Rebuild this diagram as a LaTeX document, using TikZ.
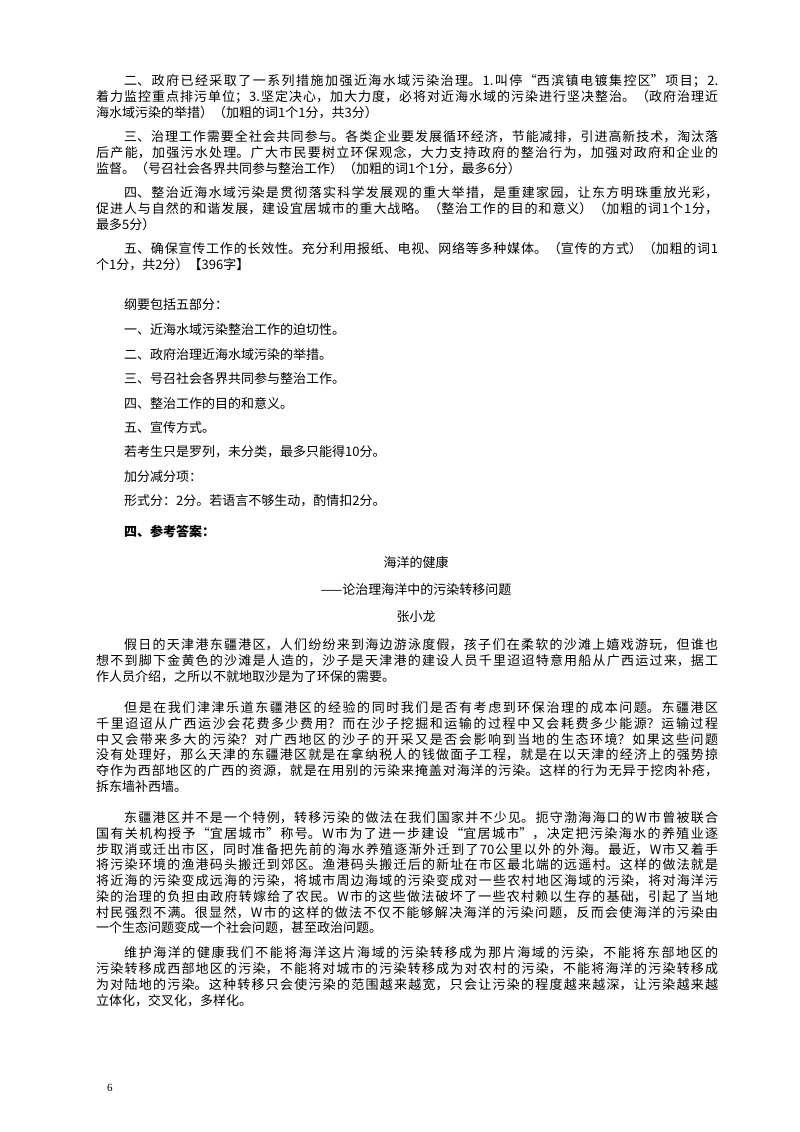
\documentclass[tikz,border=0pt]{standalone}
\usepackage{fontspec}
\setmainfont{Noto Sans CJK SC}
\newfontfamily\latfont{Liberation Serif}
\XeTeXlinebreaklocale "zh"
\XeTeXlinebreakskip=0pt plus 3pt minus 0.3pt
\tolerance=9999 \emergencystretch=30pt
\tikzset{para/.style={anchor=north west,inner sep=0pt,text width=622pt,align=justify,font=\fontsize{13}{15.75}\selectfont},
 one/.style={anchor=west,inner sep=0pt,font=\fontsize{13}{15.75}\selectfont},
 ctr/.style={anchor=center,inner sep=0pt,font=\fontsize{13}{15.75}\selectfont}}
\newcommand\ind{\hspace*{28pt}}
\begin{document}
\begin{tikzpicture}[x=1pt,y=-1pt]
\useasboundingbox[fill=white] (0,0) rectangle (800,1132);
\node[para] (p1) at (96,74.5) {\ind 二、政府已经采取了一系列措施加强近海水域污染治理。1.叫停“西滨镇电镀集控区”项目；2.\linebreak 着力监控重点排污单位；3.坚定决心，加大力度，必将对近海水域的污染进行坚决整治。（政府治理近\linebreak 海水域污染的举措）（加粗的词1个1分，共3分）};
\node[para] (p2) at (96,130.5) {\ind 三、治理工作需要全社会共同参与。各类企业要发展循环经济，节能减排，引进高新技术，淘汰落\linebreak 后产能，加强污水处理。广大市民要树立环保观念，大力支持政府的整治行为，加强对政府和企业的\linebreak 监督。（号召社会各界共同参与整治工作）（加粗的词1个1分，最多6分）};
\node[para] (p3) at (96,186.5) {\ind 四、整治近海水域污染是贯彻落实科学发展观的重大举措，是重建家园，让东方明珠重放光彩，\linebreak 促进人与自然的和谐发展，建设宜居城市的重大战略。（整治工作的目的和意义）（加粗的词1个1分，\linebreak 最多5分）};
\node[para] (p4) at (96,242.5) {\ind 五、确保宣传工作的长效性。充分利用报纸、电视、网络等多种媒体。（宣传的方式）（加粗的词1\linebreak 个1分，共2分）【396字】};
\node[one] (l1) at (124,305) {纲要包括五部分：};
\node[one] (l2) at (124,330) {一、近海水域污染整治工作的迫切性。};
\node[one] (l3) at (124,355) {二、政府治理近海水域污染的举措。};
\node[one] (l4) at (124,379) {三、号召社会各界共同参与整治工作。};
\node[one] (l5) at (124,404) {四、整治工作的目的和意义。};
\node[one] (l6) at (124,428) {五、宣传方式。};
\node[one] (l7) at (124,452) {若考生只是罗列，未分类，最多只能得10分。};
\node[one] (l8) at (124,477) {加分减分项：};
\node[one] (l9) at (124,501) {形式分：2分。若语言不够生动，酌情扣2分。};
\node[one,font=\fontsize{13}{15.75}\selectfont\bfseries] (h) at (124,531) {四、参考答案：};
\node[ctr] (t1) at (416,562) {海洋的健康};
\node[ctr] (t2) at (416,590) {——论治理海洋中的污染转移问题};
\node[ctr] (t3) at (416,617) {张小龙};
\node[para] (q1) at (96,638.5) {\ind 假日的天津港东疆港区，人们纷纷来到海边游泳度假，孩子们在柔软的沙滩上嬉戏游玩，但谁也\linebreak 想不到脚下金黄色的沙滩是人造的，沙子是天津港的建设人员千里迢迢特意用船从广西运过来，据工\linebreak 作人员介绍，之所以不就地取沙是为了环保的需要。};
\node[para] (q2) at (96,701.5) {\ind 但是在我们津津乐道东疆港区的经验的同时我们是否有考虑到环保治理的成本问题。东疆港区\linebreak 千里迢迢从广西运沙会花费多少费用？而在沙子挖掘和运输的过程中又会耗费多少能源？运输过程\linebreak 中又会带来多大的污染？对广西地区的沙子的开采又是否会影响到当地的生态环境？如果这些问题\linebreak 没有处理好，那么天津的东疆港区就是在拿纳税人的钱做面子工程，就是在以天津的经济上的强势掠\linebreak 夺作为西部地区的广西的资源，就是在用别的污染来掩盖对海洋的污染。这样的行为无异于挖肉补疮，\linebreak 拆东墙补西墙。};
\node[para] (q3) at (96,811.5) {\ind 东疆港区并不是一个特例，转移污染的做法在我们国家并不少见。扼守渤海海口的W市曾被联合\linebreak 国有关机构授予“宜居城市”称号。W市为了进一步建设“宜居城市”，决定把污染海水的养殖业逐\linebreak 步取消或迁出市区，同时准备把先前的海水养殖逐渐外迁到了70公里以外的外海。最近，W市又着手\linebreak 将污染环境的渔港码头搬迁到郊区。渔港码头搬迁后的新址在市区最北端的远遥村。这样的做法就是\linebreak 将近海的污染变成远海的污染，将城市周边海域的污染变成对一些农村地区海域的污染，将对海洋污\linebreak 染的治理的负担由政府转嫁给了农民。W市的这些做法破坏了一些农村赖以生存的基础，引起了当地\linebreak 村民强烈不满。很显然，W市的这样的做法不仅不能够解决海洋的污染问题，反而会使海洋的污染由\linebreak 一个生态问题变成一个社会问题，甚至政治问题。};
\node[para] (q4) at (96,946.5) {\ind 维护海洋的健康我们不能将海洋这片海域的污染转移成为那片海域的污染，不能将东部地区的\linebreak 污染转移成西部地区的污染，不能将对城市的污染转移成为对农村的污染，不能将海洋的污染转移成\linebreak 为对陆地的污染。这种转移只会使污染的范围越来越宽，只会让污染的程度越来越深，让污染越来越\linebreak 立体化，交叉化，多样化。};
\node[one,font=\latfont\fontsize{11}{13}\selectfont] (pg) at (107,1088) {6};
\end{tikzpicture}
\end{document}
